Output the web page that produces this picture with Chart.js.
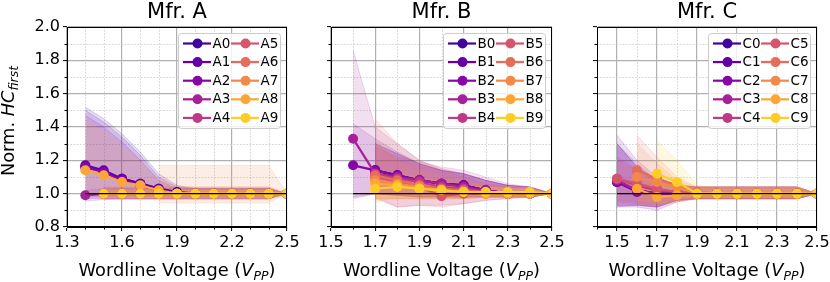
<!DOCTYPE html>
<html><head><meta charset="utf-8">
<script src="https://cdn.jsdelivr.net/npm/chart.js@4/dist/chart.umd.min.js"></script>
<style>
html,body{margin:0;padding:0;background:#fff;}
#wrap{position:relative;width:830px;height:282px;overflow:hidden;}
canvas{position:absolute;left:0;top:0;}
</style></head><body>
<div id="wrap">
<canvas id="cA" width="830" height="282"></canvas>
<canvas id="cB" width="830" height="282"></canvas>
<canvas id="cC" width="830" height="282"></canvas>
</div>
<script>
// ---------------- DATA ----------------
const titles = ['Mfr. A', 'Mfr. B', 'Mfr. C'];
const namesA = ['A0','A1','A2','A3','A4','A5','A6','A7','A8','A9'];
const namesB = ['B0','B1','B2','B3','B4','B5','B6','B7','B8','B9'];
const namesC = ['C0','C1','C2','C3','C4','C5','C6','C7','C8','C9'];
const yTicks = [0.8, 1.0, 1.2, 1.4, 1.6, 1.8, 2.0];
const yMinor = [0.9, 1.1, 1.3, 1.5, 1.7, 1.9];
const xTicksA = [1.3, 1.6, 1.9, 2.2, 2.5];
const xMinorA = [1.4, 1.5, 1.7, 1.8, 2.0, 2.1, 2.3, 2.4];
const xTicksB = [1.5, 1.7, 1.9, 2.1, 2.3, 2.5];
const xMinorB = [1.6, 1.8, 2.0, 2.2, 2.4];
const xTicksC = [1.5, 1.7, 1.9, 2.1, 2.3, 2.5];
const xMinorC = [1.4, 1.6, 1.8, 2.0, 2.2, 2.4];

// Mfr. A
const xA = [1.4, 1.5, 1.6, 1.7, 1.8, 1.9, 2.0, 2.1, 2.2, 2.3, 2.4, 2.5];
const meanA = [
  [1.16, 1.13, 1.09, 1.06, 1.03, 1.01, 1.00, 1.00, 1.00, 1.00, 1.00, 1.00],
  [1.17, 1.14, 1.09, 1.06, 1.03, 1.00, 1.00, 1.00, 1.00, 1.00, 1.00, 1.00],
  [1.16, 1.13, 1.08, 1.05, 1.02, 1.00, 1.00, 1.00, 1.00, 1.00, 1.00, 1.00],
  [0.99, 1.00, 1.00, 1.00, 1.00, 1.00, 1.00, 1.00, 1.00, 1.00, 1.00, 1.00],
  [null, 1.00, 1.00, 1.00, 1.00, 1.00, 1.00, 1.00, 1.00, 1.00, 1.00, 1.00],
  [null, 1.00, 1.00, 1.00, 1.00, 1.00, 1.00, 1.00, 1.00, 1.00, 1.00, 1.00],
  [null, 1.00, 1.00, 1.00, 1.00, 1.00, 1.00, 1.00, 1.00, 1.00, 1.00, 1.00],
  [null, null, null, null, 1.00, 1.00, 1.00, 1.00, 1.00, 1.00, 1.00, 1.00],
  [1.14, 1.11, 1.07, 1.05, 1.02, 1.00, 1.00, 1.00, 1.00, 1.00, 1.00, 1.00],
  [null, 1.00, 1.00, 1.00, 1.00, 1.00, 1.00, 1.00, 1.00, 1.00, 1.00, 1.00]
];
const loA = [
  [0.98, 0.98, 0.98, 0.98, 0.98, 0.98, 0.98, 0.98, 0.98, 0.98, 0.98, 1.00],
  [0.99, 0.99, 0.99, 0.99, 0.99, 0.98, 0.98, 0.98, 0.98, 0.98, 0.98, 1.00],
  [0.97, 0.97, 0.97, 0.97, 0.97, 0.97, 0.97, 0.97, 0.97, 0.97, 0.97, 1.00],
  [0.955, 0.965, 0.97, 0.97, 0.97, 0.97, 0.97, 0.97, 0.97, 0.97, 0.97, 1.00],
  [null, 0.97, 0.97, 0.97, 0.97, 0.97, 0.97, 0.97, 0.97, 0.97, 0.97, 1.00],
  [null, 0.97, 0.97, 0.97, 0.97, 0.97, 0.97, 0.97, 0.97, 0.97, 0.97, 1.00],
  [null, 0.965, 0.965, 0.965, 0.965, 0.965, 0.965, 0.965, 0.965, 0.965, 0.965, 1.00],
  [null, null, null, null, 0.945, 0.945, 0.945, 0.945, 0.945, 0.945, 0.945, 1.00],
  [0.99, 0.99, 0.99, 0.99, 0.98, 0.98, 0.98, 0.98, 0.98, 0.98, 0.98, 1.00],
  [null, 0.98, 0.98, 0.98, 0.98, 0.98, 0.98, 0.98, 0.98, 0.98, 0.98, 1.00]
];
const hiA = [
  [1.52, 1.45, 1.36, 1.25, 1.12, 1.05, 1.03, 1.03, 1.03, 1.03, 1.03, 1.00],
  [1.50, 1.43, 1.34, 1.23, 1.10, 1.04, 1.03, 1.03, 1.03, 1.03, 1.03, 1.00],
  [1.47, 1.40, 1.31, 1.20, 1.08, 1.03, 1.03, 1.03, 1.03, 1.03, 1.03, 1.00],
  [1.02, 1.03, 1.03, 1.03, 1.03, 1.03, 1.03, 1.03, 1.03, 1.03, 1.03, 1.00],
  [null, 1.03, 1.03, 1.03, 1.03, 1.03, 1.03, 1.03, 1.03, 1.03, 1.03, 1.00],
  [null, 1.04, 1.04, 1.04, 1.04, 1.04, 1.04, 1.04, 1.04, 1.04, 1.04, 1.00],
  [null, 1.04, 1.04, 1.04, 1.04, 1.04, 1.04, 1.04, 1.04, 1.04, 1.04, 1.00],
  [null, null, null, null, 1.17, 1.17, 1.17, 1.17, 1.17, 1.17, 1.17, 1.00],
  [1.44, 1.37, 1.29, 1.19, 1.08, 1.03, 1.03, 1.03, 1.03, 1.03, 1.03, 1.00],
  [null, 1.02, 1.02, 1.02, 1.02, 1.02, 1.02, 1.02, 1.02, 1.02, 1.02, 1.00]
];

// Mfr. B
const xB = [1.6, 1.7, 1.8, 1.9, 2.0, 2.1, 2.2, 2.3, 2.4, 2.5];
const meanB = [
  [null, 1.14, 1.11, 1.08, 1.06, 1.05, 1.02, 1.00, 1.00, 1.00],
  [null, 1.14, 1.11, 1.08, 1.06, 1.05, 1.02, 1.00, 1.00, 1.00],
  [1.17, 1.14, 1.11, 1.08, 1.06, 1.05, 1.02, 1.00, 1.00, 1.00],
  [1.33, 1.12, 1.10, 1.08, 1.06, 1.04, 1.02, 1.00, 1.00, 1.00],
  [null, 1.12, 1.09, 1.07, 1.04, 1.03, 1.01, 1.00, 1.00, 1.00],
  [null, 1.10, 1.07, 1.04, 0.985, 1.00, 1.00, 1.00, 1.00, 1.00],
  [null, 1.11, 1.08, 1.05, 1.03, 1.02, 1.01, 1.00, 1.00, 1.00],
  [null, 1.08, 1.06, 1.04, 1.02, 1.01, 1.00, 1.00, 1.00, 1.00],
  [null, 1.06, 1.05, 1.03, 1.02, 1.01, 1.00, 1.00, 1.00, 1.00],
  [null, 1.03, 1.04, 1.03, 1.02, 1.01, 1.01, 1.01, 1.01, 1.00]
];
const loB = [
  [null, 1.00, 0.99, 0.98, 0.98, 0.98, 0.98, 0.98, 0.98, 1.00],
  [null, 1.00, 0.99, 0.98, 0.98, 0.98, 0.98, 0.98, 0.98, 1.00],
  [0.98, 1.00, 0.99, 0.98, 0.98, 0.98, 0.98, 0.98, 0.98, 1.00],
  [0.97, 1.00, 0.99, 0.98, 0.98, 0.98, 0.98, 0.98, 0.98, 1.00],
  [null, 0.98, 0.92, 0.93, 0.93, 0.94, 0.96, 0.97, 0.98, 1.00],
  [null, 0.97, 0.92, 0.93, 0.92, 0.94, 0.96, 0.97, 0.98, 1.00],
  [null, 0.97, 0.97, 0.97, 0.97, 0.97, 0.98, 0.98, 0.98, 1.00],
  [null, 0.97, 0.97, 0.97, 0.97, 0.97, 0.98, 0.98, 0.98, 1.00],
  [null, 0.96, 0.97, 0.97, 0.97, 0.97, 0.98, 0.98, 0.98, 1.00],
  [null, 0.95, 0.98, 0.98, 0.98, 0.98, 0.98, 0.98, 0.98, 1.00]
];
const hiB = [
  [null, 1.30, 1.24, 1.18, 1.14, 1.12, 1.08, 1.05, 1.04, 1.00],
  [null, 1.30, 1.24, 1.18, 1.14, 1.12, 1.08, 1.05, 1.04, 1.00],
  [1.42, 1.33, 1.25, 1.18, 1.14, 1.12, 1.08, 1.05, 1.04, 1.00],
  [1.86, 1.40, 1.30, 1.20, 1.15, 1.12, 1.08, 1.05, 1.04, 1.00],
  [null, 1.28, 1.22, 1.19, 1.16, 1.14, 1.10, 1.06, 1.04, 1.00],
  [null, 1.30, 1.20, 1.17, 1.14, 1.10, 1.06, 1.04, 1.03, 1.00],
  [null, 1.45, 1.30, 1.20, 1.14, 1.10, 1.06, 1.04, 1.03, 1.00],
  [null, 1.32, 1.20, 1.14, 1.10, 1.07, 1.05, 1.04, 1.03, 1.00],
  [null, 1.15, 1.12, 1.10, 1.07, 1.05, 1.04, 1.03, 1.03, 1.00],
  [null, 1.08, 1.08, 1.07, 1.06, 1.05, 1.04, 1.03, 1.03, 1.00]
];

// Mfr. C
const xC = [1.5, 1.6, 1.7, 1.8, 1.9, 2.0, 2.1, 2.2, 2.3, 2.4, 2.5];
const meanC = [
  [1.07, 1.02, 1.00, 1.00, 1.00, 1.00, 1.00, 1.00, 1.00, 1.00, 1.00],
  [1.07, 1.02, 1.00, 1.00, 1.00, 1.00, 1.00, 1.00, 1.00, 1.00, 1.00],
  [1.07, 1.01, 1.00, 1.00, 1.00, 1.00, 1.00, 1.00, 1.00, 1.00, 1.00],
  [1.08, 1.02, 1.00, 1.00, 1.00, 1.00, 1.00, 1.00, 1.00, 1.00, 1.00],
  [1.09, 1.05, 1.02, 1.01, 1.00, 1.00, 1.00, 1.00, 1.00, 1.00, 1.00],
  [1.09, 1.06, 1.03, 1.01, 1.00, 1.00, 1.00, 1.00, 1.00, 1.00, 1.00],
  [null, 1.14, 1.09, 1.05, 1.01, 1.00, 1.00, 1.00, 1.00, 1.00, 1.00],
  [null, 1.10, 1.07, 1.04, 1.00, 1.00, 1.00, 1.00, 1.00, 1.00, 1.00],
  [null, 1.03, 0.98, 0.99, 1.00, 1.00, 1.00, 1.00, 1.00, 1.00, 1.00],
  [null, null, 1.12, 1.07, 1.00, 1.00, 1.00, 1.00, 1.00, 1.00, 1.00]
];
const loC = [
  [0.93, 0.93, 0.92, 0.96, 0.97, 0.97, 0.97, 0.97, 0.97, 0.97, 1.00],
  [0.93, 0.93, 0.92, 0.96, 0.97, 0.97, 0.97, 0.97, 0.97, 0.97, 1.00],
  [0.92, 0.92, 0.90, 0.95, 0.97, 0.97, 0.97, 0.97, 0.97, 0.97, 1.00],
  [0.92, 0.93, 0.92, 0.96, 0.97, 0.97, 0.97, 0.97, 0.97, 0.97, 1.00],
  [0.95, 0.94, 0.93, 0.96, 0.97, 0.97, 0.97, 0.97, 0.97, 0.97, 1.00],
  [0.96, 0.95, 0.94, 0.96, 0.97, 0.97, 0.97, 0.97, 0.97, 0.97, 1.00],
  [null, 0.94, 0.92, 0.95, 0.97, 0.97, 0.97, 0.97, 0.97, 0.97, 1.00],
  [null, 0.95, 0.94, 0.96, 0.97, 0.97, 0.97, 0.97, 0.97, 0.97, 1.00],
  [null, 0.96, 0.94, 0.95, 0.97, 0.97, 0.97, 0.97, 0.97, 0.97, 1.00],
  [null, null, 0.98, 0.98, 0.98, 0.98, 0.98, 0.98, 0.98, 0.98, 1.00]
];
const hiC = [
  [1.30, 1.16, 1.08, 1.05, 1.04, 1.04, 1.04, 1.04, 1.04, 1.04, 1.00],
  [1.30, 1.16, 1.08, 1.05, 1.04, 1.04, 1.04, 1.04, 1.04, 1.04, 1.00],
  [1.35, 1.20, 1.10, 1.05, 1.04, 1.04, 1.04, 1.04, 1.04, 1.04, 1.00],
  [1.30, 1.18, 1.08, 1.05, 1.04, 1.04, 1.04, 1.04, 1.04, 1.04, 1.00],
  [1.22, 1.15, 1.08, 1.04, 1.04, 1.04, 1.04, 1.04, 1.04, 1.04, 1.00],
  [1.20, 1.14, 1.08, 1.04, 1.04, 1.04, 1.04, 1.04, 1.04, 1.04, 1.00],
  [null, 1.35, 1.22, 1.10, 1.04, 1.04, 1.04, 1.04, 1.04, 1.04, 1.00],
  [null, 1.30, 1.18, 1.08, 1.04, 1.04, 1.04, 1.04, 1.04, 1.04, 1.00],
  [null, 1.10, 1.06, 1.05, 1.04, 1.04, 1.04, 1.04, 1.04, 1.04, 1.00],
  [null, null, 1.32, 1.20, 1.05, 1.04, 1.04, 1.04, 1.04, 1.04, 1.00]
];

const seriesColors = ['#41049d','#6500a7','#8707a6','#a62098','#c03a83','#d5546e','#e66c5c','#f48849','#fca735','#fcce25'];

// ---------------- DRAWING ----------------
const FONT = '"DejaVu Sans", "Liberation Sans", sans-serif';
function rgba(hex, a) {
  const n = parseInt(hex.slice(1), 16);
  return `rgba(${(n >> 16) & 255},${(n >> 8) & 255},${n & 255},${a})`;
}
function drawRich(ctx, parts, cx, by, fs) {
  const m = [];
  let total = 0;
  for (const p of parts) {
    const s = p.sub ? fs * 0.7 : fs;
    ctx.font = `${p.it ? 'italic ' : ''}${s}px ${FONT}`;
    const w = ctx.measureText(p.t).width;
    m.push([s, w]); total += w;
  }
  let x = cx - total / 2;
  ctx.textAlign = 'left'; ctx.textBaseline = 'alphabetic';
  parts.forEach((p, i) => {
    const [s, w] = m[i];
    ctx.font = `${p.it ? 'italic ' : ''}${s}px ${FONT}`;
    ctx.fillText(p.t, x, by + (p.sub ? fs * 0.22 : 0));
    x += w;
  });
}
function hline(ctx, x1, x2, y) { ctx.beginPath(); ctx.moveTo(x1, y); ctx.lineTo(x2, y); ctx.stroke(); }
function vline(ctx, x, y1, y2) { ctx.beginPath(); ctx.moveTo(x, y1); ctx.lineTo(x, y2); ctx.stroke(); }

const panelPlugin = {
  id: 'panel',
  beforeDatasetsDraw(chart, args, o) {
    const { ctx, chartArea: a, scales: { x, y } } = chart;
    ctx.save();
    ctx.strokeStyle = '#c8c8c8'; ctx.lineWidth = 0.8; ctx.setLineDash([1.6, 1.6]);
    for (const v of o.xMinor) { const px = Math.round(x.getPixelForValue(v)) + 0.5; vline(ctx, px, a.top, a.bottom); }
    for (const v of yMinor) { const py = Math.round(y.getPixelForValue(v)) + 0.5; hline(ctx, a.left, a.right, py); }
    ctx.restore();
  },
  afterDatasetsDraw(chart, args, o) {
    const { ctx, chartArea: a, scales: { x, y } } = chart;
    ctx.save();
    // frame
    ctx.strokeStyle = '#000'; ctx.lineWidth = 1;
    ctx.strokeRect(Math.round(a.left) + 0.5, Math.round(a.top) + 0.5, Math.round(a.right - a.left) - 1, Math.round(a.bottom - a.top) - 1);
    // minor ticks
    for (const v of o.xMinor) { const px = Math.round(x.getPixelForValue(v)) + 0.5; vline(ctx, px, a.bottom, a.bottom + 2.5); }
    for (const v of yMinor) { const py = Math.round(y.getPixelForValue(v)) + 0.5; hline(ctx, a.left - 2.5, a.left, py); }
    // title
    ctx.fillStyle = '#000';
    ctx.font = `21px ${FONT}`; ctx.textAlign = 'center'; ctx.textBaseline = 'alphabetic';
    ctx.fillText(o.title, (a.left + a.right) / 2, 18);
    // x title
    drawRich(ctx, [{ t: 'Wordline Voltage (' }, { t: 'V', it: true }, { t: 'PP', it: true, sub: true }, { t: ')' }],
      (a.left + a.right) / 2, 276, 17.8);
    // y title
    if (o.yTitle) {
      ctx.save();
      ctx.translate(14, (a.top + a.bottom) / 2 - 6);
      ctx.rotate(-Math.PI / 2);
      drawRich(ctx, [{ t: 'Norm. ' }, { t: 'HC', it: true }, { t: 'first', it: true, sub: true }], 0, 0, 17.8);
      ctx.restore();
    }
    // legend
    const bw = 102, bh = 95;
    const bx = a.right - 7 - bw, by = a.top + 6;
    ctx.fillStyle = 'rgba(255,255,255,0.8)';
    ctx.strokeStyle = '#cccccc'; ctx.lineWidth = 1;
    ctx.beginPath();
    if (ctx.roundRect) ctx.roundRect(bx + 0.5, by + 0.5, bw, bh, 3); else ctx.rect(bx + 0.5, by + 0.5, bw, bh);
    ctx.fill(); ctx.stroke();
    ctx.font = `13.5px ${FONT}`; ctx.textAlign = 'left'; ctx.textBaseline = 'middle';
    o.names.forEach((nm, i) => {
      const col = Math.floor(i / 5), row = i % 5;
      const ry = by + 10.5 + row * 18.6;
      const lx = bx + (col ? 53 : 5);
      const c = seriesColors[i];
      ctx.strokeStyle = c; ctx.lineWidth = 2.2;
      hline(ctx, lx, lx + 28, ry);
      ctx.fillStyle = c;
      ctx.beginPath(); ctx.arc(lx + 14.5, ry, 5, 0, Math.PI * 2); ctx.fill();
      ctx.fillStyle = '#000';
      ctx.fillText(nm, lx + 29.5, ry + 0.5);
    });
    ctx.restore();
  }
};

function makePanel(id, P) {
  const ds = [];
  ds.push({
    label: 'ref', data: [{ x: P.xs[0], y: 1 }, { x: P.xs[P.xs.length - 1], y: 1 }],
    borderColor: '#000', borderWidth: 1.3, pointRadius: 0, order: 0, fill: false
  });
  P.mean.forEach((row, i) => {
    const c = seriesColors[i];
    const mn = [], up = [], lo = [];
    P.xs.forEach((xv, j) => {
      if (row[j] !== null) {
        mn.push({ x: xv, y: row[j] });
        up.push({ x: xv, y: P.hi[i][j] });
        lo.push({ x: xv, y: P.lo[i][j] });
      }
    });
    const loIdx = ds.length;
    ds.push({ label: P.names[i] + ' lo', data: lo, borderColor: rgba(c, 0.2), borderWidth: 0.8, pointRadius: 0, fill: false, order: 100 + (10 - i) * 2 });
    ds.push({ label: P.names[i] + ' hi', data: up, borderColor: rgba(c, 0.2), borderWidth: 0.8, pointRadius: 0,
      backgroundColor: rgba(c, 0.14), fill: { target: loIdx }, order: 101 + (10 - i) * 2 });
    ds.push({ label: P.names[i], data: mn, borderColor: c, backgroundColor: c, borderWidth: 2.2,
      pointRadius: 5, pointBorderWidth: 0, pointBackgroundColor: c, fill: false, order: 10 - i });
  });
  const yW = 45, xH = 30;
  return new Chart(document.getElementById(id), {
    type: 'line',
    data: { datasets: ds },
    options: {
      responsive: false, animation: false, devicePixelRatio: 1,
      clip: 0,
      layout: { padding: { left: P.area.left - yW, right: 830 - P.area.right, top: P.area.top, bottom: 282 - P.area.bottom - xH } },
      elements: { line: { tension: 0 } },
      plugins: { legend: { display: false }, tooltip: { enabled: false }, panel: P.opts },
      scales: {
        x: {
          type: 'linear', min: P.xmin, max: P.xmax,
          afterBuildTicks: s => { s.ticks = P.xTicks.map(v => ({ value: v })); },
          afterFit: s => { s.height = xH; s.paddingLeft = 0; s.paddingRight = 0; },
          ticks: { autoSkip: false, maxRotation: 0, color: '#000', padding: 2, font: { family: FONT, size: 16 }, callback: v => v.toFixed(1) },
          grid: { color: '#b0b0b0', lineWidth: 1.2, tickLength: 4, tickColor: '#000', tickWidth: 1 },
          border: { color: '#000', width: 1 }
        },
        y: {
          type: 'linear', min: 0.8, max: 2.0,
          afterBuildTicks: s => { s.ticks = yTicks.map(v => ({ value: v })); },
          afterFit: s => { s.width = yW; s.paddingTop = 0; s.paddingBottom = 0; },
          ticks: { autoSkip: false, color: '#000', padding: 3, font: { family: FONT, size: 16 }, callback: v => P.showY ? v.toFixed(1) : '' },
          grid: { color: '#b0b0b0', lineWidth: 1.2, tickLength: 4, tickColor: '#000', tickWidth: 1 },
          border: { color: '#000', width: 1 }
        }
      }
    },
    plugins: [panelPlugin]
  });
}

makePanel('cA', { xs: xA, mean: meanA, lo: loA, hi: hiA, names: namesA, xmin: 1.3, xmax: 2.5, xTicks: xTicksA, showY: true,
  area: { left: 67, right: 287, top: 27, bottom: 227 },
  opts: { xMinor: xMinorA, title: titles[0], names: namesA, yTitle: true } });
makePanel('cB', { xs: xB, mean: meanB, lo: loB, hi: hiB, names: namesB, xmin: 1.5, xmax: 2.5, xTicks: xTicksB, showY: false,
  area: { left: 331, right: 552, top: 27, bottom: 227 },
  opts: { xMinor: xMinorB, title: titles[1], names: namesB, yTitle: false } });
makePanel('cC', { xs: xC, mean: meanC, lo: loC, hi: hiC, names: namesC, xmin: 1.4, xmax: 2.5, xTicks: xTicksC, showY: false,
  area: { left: 597, right: 817, top: 27, bottom: 227 },
  opts: { xMinor: xMinorC, title: titles[2], names: namesC, yTitle: false } });
</script>
</body></html>
